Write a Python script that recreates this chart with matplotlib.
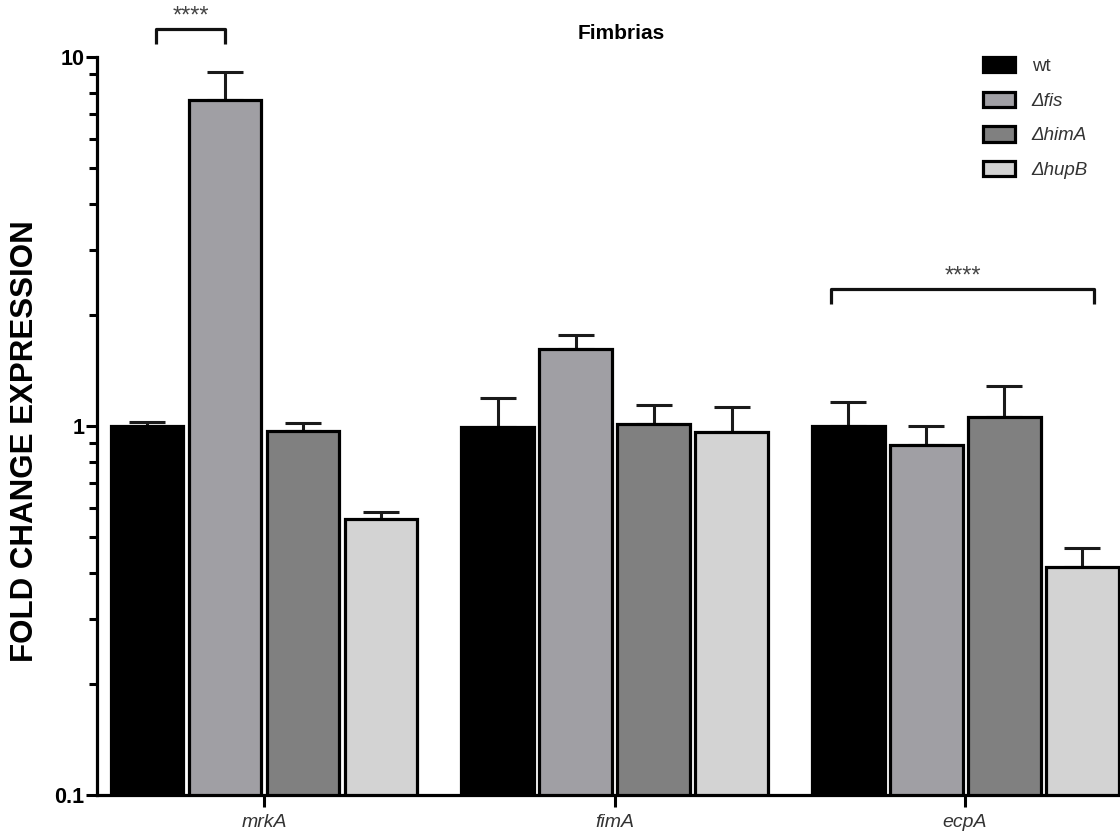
import matplotlib
matplotlib.use('Agg')
import matplotlib.pyplot as plt
import numpy as np

# dados (fold change, escala log)
genes = ['mrkA', 'fimA', 'ecpA']
estirpes = ['wt', 'Δfis', 'ΔhimA', 'ΔhupB']
cores = ['#000000', '#a09fa4', '#808080', '#d3d3d3']

wt = [1.0, 0.995, 1.0]
fis = [7.65, 1.62, 0.888]
himA = [0.971, 1.012, 1.06]
hupB = [0.558, 0.963, 0.416]

# topo das barras de erro (só a parte de cima é desenhada)
wt_top = [1.025, 1.19, 1.16]
fis_top = [9.1, 1.765, 1.0]
himA_top = [1.02, 1.14, 1.28]
hupB_top = [0.583, 1.126, 0.467]

# brackets de significância: (gene, barra inicial, barra final, altura, texto)
sig_gene = [0, 2]
sig_ini = [0, 0]
sig_fim = [1, 3]
sig_alt = [11.9, 2.35]
sig_txt = ['****', '****']

valores = [wt, fis, himA, hupB]
topos = [wt_top, fis_top, himA_top, hupB_top]

plt.rcParams['font.family'] = ['Liberation Sans', 'DejaVu Sans']

fig = plt.figure(figsize=(11.2, 8.34), dpi=100)
ax = fig.add_axes([97/1120, 39/834, 1023/1120, 738/834])
ax.set_yscale('log')
ymin, ymax = 0.1, 10

x = np.arange(len(genes))
passo = 0.2225
largura = 0.208

for i, (v, t) in enumerate(zip(valores, topos)):
    xi = x + (i - 1.5) * passo
    v = np.array(v)
    ax.bar(xi, v - ymin, bottom=ymin, width=largura, color=cores[i],
           edgecolor='black', linewidth=2.3, label=estirpes[i], zorder=3)
    erro = np.array(t) - v
    ax.errorbar(xi, v, yerr=[np.zeros_like(erro), erro], fmt='none',
                ecolor='#1a1a1a', elinewidth=2.2, capsize=13, capthick=2.2, zorder=2)

# brackets
for g, a, b, h, txt in zip(sig_gene, sig_ini, sig_fim, sig_alt, sig_txt):
    x0 = g + (a - 1.5) * passo
    x1 = g + (b - 1.5) * passo
    if b - a > 1:
        x0 -= 0.05
        x1 += 0.035
    else:
        x0 += 0.025
    h0 = h / 1.1
    ax.plot([x0, x0, x1, x1], [h0, h, h, h0], color='#111111', lw=2.3,
            clip_on=False, solid_capstyle='butt', zorder=4)
    ax.text((x0 + x1) / 2, h * 1.01, txt, ha='center', va='bottom',
            fontsize=17, color='#444444', clip_on=False)

ax.set_ylim(ymin, ymax)
ax.set_xlim(-0.4765, 2.442)
ax.set_yticks([0.1, 1, 10])
ax.set_yticklabels(['0.1', '1', '10'], fontsize=15.5, fontweight='bold')
ax.set_xticks(x)
ax.set_xticklabels(genes, fontsize=14, style='italic', color='#333333')

ax.tick_params(axis='y', which='major', length=8, width=2.2, pad=1)
ax.tick_params(axis='y', which='minor', length=5.5, width=2.2)
ax.tick_params(axis='x', which='major', length=8.5, width=2.2, pad=5)
ax.tick_params(axis='x', which='minor', length=0)

for s in ['top', 'right']:
    ax.spines[s].set_visible(False)
for s in ['left', 'bottom']:
    ax.spines[s].set_linewidth(2.3)

ax.set_ylabel('FOLD CHANGE EXPRESSION', fontsize=22.5, fontweight='bold')
ax.yaxis.set_label_coords(-0.056, 0.48)
ax.set_title('Fimbrias', fontsize=15, fontweight='bold', x=0.512, pad=13)

leg = ax.legend(loc='upper left', bbox_to_anchor=(0.866, 1.0), frameon=False,
                fontsize=13.5, handlelength=1.7, handleheight=0.88,
                labelspacing=0.88, handletextpad=0.9, borderpad=0, borderaxespad=0)
for k, t in enumerate(leg.get_texts()):
    t.set_color('#333333')
    if k > 0:
        t.set_style('italic')

plt.savefig('out.png', dpi=100)
